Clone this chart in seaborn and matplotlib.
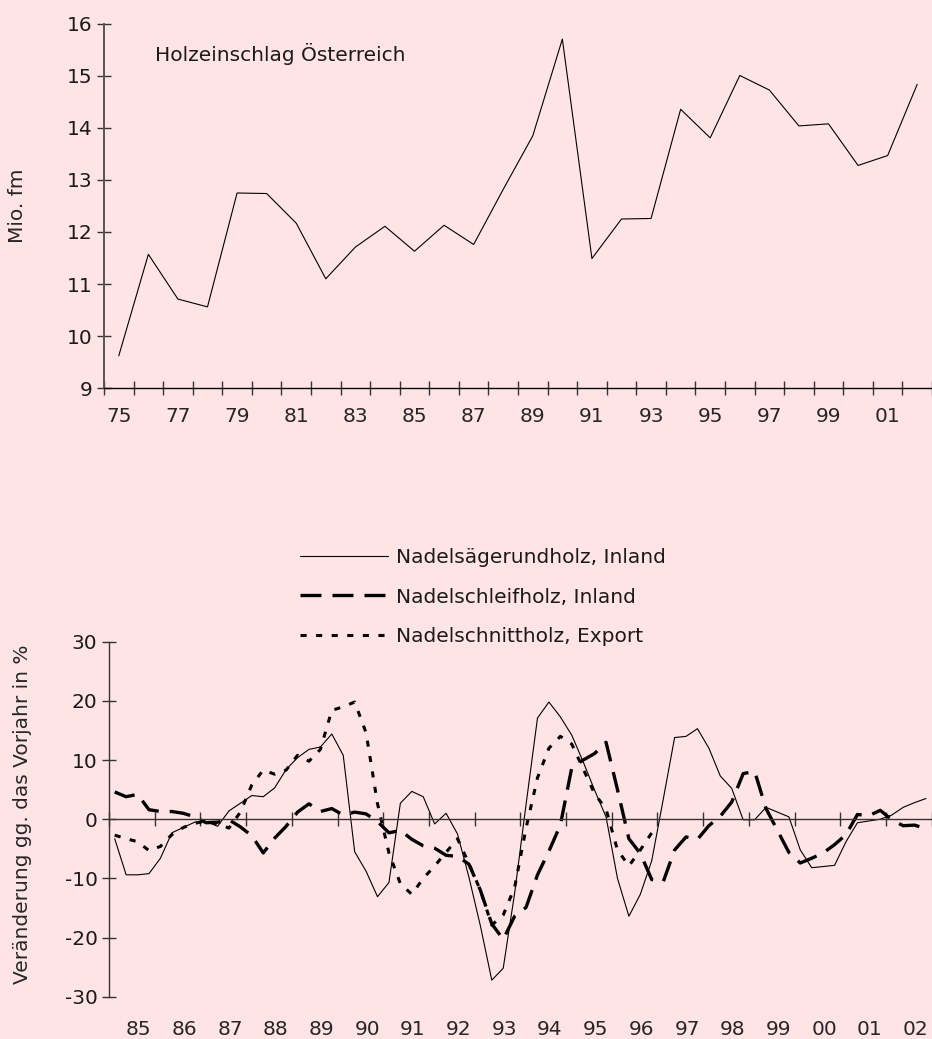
import numpy as np
import pandas as pd
import matplotlib
matplotlib.use("Agg")
import matplotlib.pyplot as plt
import seaborn as sns

# ------------------------------------------------------------
# Daten
# ------------------------------------------------------------
BG = "#ffe4e6"

# Holzeinschlag Österreich in Mio. fm, 1975-2002
harvest_years = list(range(1975, 2003))
harvest = [9.62, 11.57, 10.71, 10.56, 12.75, 12.74, 12.17, 11.10, 11.71, 12.11,
           11.63, 12.13, 11.76, 12.82, 13.85, 15.71, 11.49, 12.25, 12.26, 14.36,
           13.81, 15.01, 14.73, 14.04, 14.08, 13.28, 13.47, 14.84]
top_tick_labels = ["75", "77", "79", "81", "83", "85", "87", "89", "91", "93",
                   "95", "97", "99", "01"]

# Quartalswerte 1985Q1-2002Q4, Veränderung gg. Vorjahr in %
quarters = pd.period_range("1985Q1", "2002Q4", freq="Q")
saegerundholz = [-3.3, -9.4, -9.4, -9.2, -6.6, -2.3, -1.4, -0.5, -0.4, -1.2,
                 1.4, 2.7, 4.0, 3.8, 5.3, 8.4, 10.4, 11.8, 12.2, 14.4,
                 10.8, -5.5, -8.8, -13.1, -10.7, 2.7, 4.7, 3.8, -0.8, 1.0,
                 -2.5, -9.8, -18.0, -27.2, -25.2, -12.5, 2.5, 17.1, 19.8, 17.3,
                 14.2, 9.7, 4.9, 0.4, -10.0, -16.4, -12.7, -7.0, 3.3, 13.8,
                 14.0, 15.3, 12.0, 7.3, 5.2, -0.1, -0.1, 2.0, 1.2, 0.4,
                 -5.2, -8.2, -8.0, -7.8, -3.8, -0.6, -0.3, 0.0, 0.7, 2.0,
                 2.8, 3.5]
schleifholz = [4.6, 3.8, 4.2, 1.6, 1.3, 1.3, 1.0, 0.4, -0.6, -0.5,
               -0.1, -1.3, -2.8, -5.7, -3.2, -1.2, 1.2, 2.6, 1.3, 1.8,
               0.7, 1.2, 0.9, -0.4, -2.3, -1.9, -3.4, -4.5, -4.9, -6.1,
               -6.3, -7.6, -12.0, -17.7, -20.3, -16.4, -14.9, -9.4, -5.4, -1.0,
               8.7, 10.0, 11.1, 13.0, 5.0, -3.3, -5.8, -10.2, -10.6, -5.2,
               -3.0, -3.4, -1.1, 0.5, 2.9, 7.7, 8.1, 1.8, -1.9, -5.6,
               -7.4, -6.6, -5.7, -4.3, -2.6, 0.8, 0.6, 1.5, -0.1, -1.1,
               -1.0, -1.6]
schnittholz = [-2.7, -3.3, -3.8, -5.3, -4.6, -2.6, -1.4, -0.7, -0.3, -0.8,
               -1.5, 1.2, 5.8, 8.3, 7.6, 8.3, 10.8, 9.8, 11.8, 18.4,
               19.0, 19.8, 14.6, 2.6, -5.7, -10.9, -12.7, -10.0, -7.9, -5.6,
               -3.3, -7.5, -12.0, -17.9, -16.2, -11.5, -1.5, 7.0, 12.0, 14.0,
               12.7, 8.5, 4.3, 1.7, -5.2, -7.9, -5.2, -2.3] + [np.nan] * 24

series_names = ["Nadelsägerundholz, Inland", "Nadelschleifholz, Inland",
                "Nadelschnittholz, Export"]
bottom_tick_labels = ["85", "86", "87", "88", "89", "90", "91", "92", "93",
                      "94", "95", "96", "97", "98", "99", "00", "01", "02"]

# ------------------------------------------------------------
# Stil
# ------------------------------------------------------------
sns.set_theme(style="ticks")
FS = 14.5
plt.rcParams["font.family"] = ["DejaVu Sans"]
plt.rcParams["font.size"] = FS
plt.rcParams["axes.unicode_minus"] = False
plt.rcParams["axes.facecolor"] = BG
plt.rcParams["figure.facecolor"] = BG
plt.rcParams["text.color"] = "#1a1a1a"

AX_COL = "#333333"
TICK_KW = dict(direction="inout", length=9.5, width=1.0, color=AX_COL,
               labelsize=FS, labelcolor="#1a1a1a")

fig = plt.figure(figsize=(9.32, 10.39), dpi=100)

# ------------------------------------------------------------
# Oberes Diagramm: Holzeinschlag
# ------------------------------------------------------------
ax1 = fig.add_axes([104 / 932, 651 / 1039, 828 / 932, 364 / 1039])
sns.lineplot(x=harvest_years, y=harvest, ax=ax1, color="black", linewidth=0.8)
ax1.set_xlim(1974.5, 1974.5 + 828 / 29.77)
ax1.set_ylim(9, 16)
ax1.set_yticks(range(9, 17))
ax1.set_xticks(np.arange(1974.5, 2003, 1.0))
ax1.set_xticklabels([])
ax1.set_xticks(harvest_years[::2], minor=True)
ax1.set_xticklabels(top_tick_labels, minor=True)
ax1.tick_params(axis="both", which="major", **TICK_KW)
ax1.tick_params(axis="x", which="minor", length=0, pad=14, labelsize=FS)
for side in ["top", "right"]:
    ax1.spines[side].set_visible(False)
ax1.spines["left"].set_color("#555555")
ax1.spines["left"].set_linewidth(1.4)
ax1.spines["bottom"].set_color("black")
ax1.spines["bottom"].set_linewidth(1.0)
ax1.set_xlabel("")
ax1.set_ylabel("Mio. fm", fontsize=FS, va="center")
ax1.yaxis.set_label_coords(-0.104, 0.5)
ax1.text(0.0616, 0.9176, "Holzeinschlag Österreich", transform=ax1.transAxes,
         ha="left", va="center", fontsize=FS)

# ------------------------------------------------------------
# Unteres Diagramm: Preise
# ------------------------------------------------------------
t = quarters.year + (quarters.quarter - 0.5) / 4
ax2 = fig.add_axes([109 / 932, 42.3 / 1039, 822.7 / 932, 355 / 1039])

sns.lineplot(x=t, y=saegerundholz, ax=ax2, color="black", linewidth=0.8,
             label=series_names[0])
sns.lineplot(x=t, y=schleifholz, ax=ax2, color="black", linewidth=2.4,
             linestyle=(0, (6.3, 3.3)), label=series_names[1])
sns.lineplot(x=t, y=schnittholz, ax=ax2, color="black", linewidth=2.2,
             linestyle=(0, (2.0, 3.1)), label=series_names[2])

ax2.set_xlim(1985, 2003)
ax2.set_ylim(-30, 30)
ax2.set_yticks(range(-30, 31, 10))
ax2.set_xticks(range(1985, 2004))
ax2.set_xticklabels([])
ax2.tick_params(axis="both", which="major", **TICK_KW)
for side in ["top", "right"]:
    ax2.spines[side].set_visible(False)
ax2.spines["bottom"].set_position(("data", 0))
ax2.spines["bottom"].set_color(AX_COL)
ax2.spines["bottom"].set_linewidth(1.0)
ax2.spines["left"].set_color(AX_COL)
ax2.spines["left"].set_linewidth(1.0)

# Jahresbeschriftung unterhalb der Achse
sec = ax2.secondary_xaxis(0.0)
sec.set_xticks(np.arange(1985, 2003) + 0.65)
sec.set_xticklabels(bottom_tick_labels)
sec.tick_params(length=0, pad=17, labelsize=FS)
sec.spines["bottom"].set_visible(False)

ax2.set_xlabel("")
ax2.set_ylabel("Veränderung gg. das Vorjahr in %", fontsize=FS, va="center")
ax2.yaxis.set_label_coords(-0.1057, 0.515)

ax2.legend(loc="upper left", bbox_to_anchor=(300 / 932, 1 - 548 / 1039),
           bbox_transform=fig.transFigure, frameon=False, borderpad=0,
           borderaxespad=0, handlelength=4.38, handletextpad=0.4,
           labelspacing=1.02, fontsize=FS)

fig.savefig("out.png", dpi=100, facecolor=BG)
